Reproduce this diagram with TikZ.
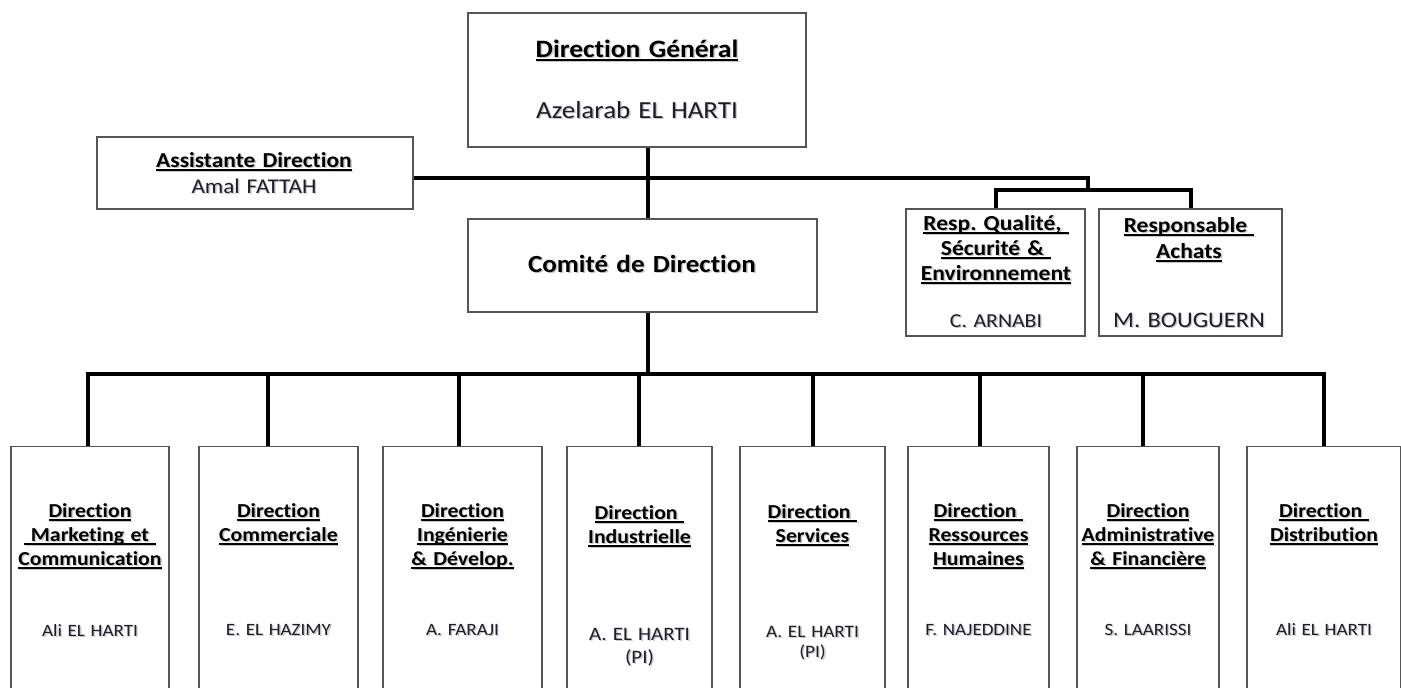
\documentclass[tikz,border=0pt]{standalone}
\usepackage{fontspec}
\setmainfont{Carlito}[FakeStretch=1.1, WordSpace=0.9, Ligatures=NoCommon]
\frenchspacing
\definecolor{boxgray}{RGB}{85,85,85}
\definecolor{nametext}{RGB}{28,28,45}
\definecolor{shade}{RGB}{200,200,200}
% text line with a soft drop shadow
\newcommand\sh[1]{\leavevmode\rlap{\hspace{1.4pt}\raisebox{-1.4pt}{\textcolor{shade}{#1}}}#1}
% underlined heading line with its shadow, the rule just under the baseline
\newcommand\ulbox[1]{\leavevmode\setbox0\hbox{#1}%
  \rlap{\hspace{1.4pt}\textcolor{shade}{\rule[-5pt]{\wd0}{1.4pt}}}%
  \rlap{\hspace{1.4pt}\raisebox{-1.4pt}{\textcolor{shade}{\copy0}}}%
  \rlap{\rule[-3.6pt]{\wd0}{1.4pt}}\box0}
\begin{document}
\begin{tikzpicture}[x=1pt,y=-1pt,
  box/.style={draw=boxgray, line width=1.3pt, fill=white, inner sep=0},
  conn/.style={line width=4pt, black},
  txt/.style={text width=300pt, align=center, anchor=base, inner sep=0},
  ttl/.style={txt, font=\bfseries\fontsize{19.8}{24}\selectfont},
  nm/.style={txt, text=nametext, font=\fontsize{17.3}{22}\selectfont}]
\clip (0,0) rectangle (1401,688);
\fill[white] (0,0) rectangle (1401,688);

% upper level
\node[box, minimum width=338, minimum height=134] (dg) at (637,80) {};
\node[box, minimum width=316, minimum height=72] (as) at (255,173) {};
\node[box, minimum width=349, minimum height=93] (cd) at (642.5,265.5) {};
\node[box, minimum width=179, minimum height=127] (q) at (995.5,272.5) {};
\node[box, minimum width=183, minimum height=127] (ach) at (1190.5,272.5) {};

\node[txt, font=\bfseries\fontsize{25}{28}\selectfont] (dgt) at (637,57) {\ulbox{Direction Général}};
\node[txt, text=nametext, font=\fontsize{24.5}{28}\selectfont] (dgn) at (637,118) {\sh{Azelarab EL HARTI}};
\node[txt, font=\bfseries\fontsize{21.3}{24}\selectfont] (ast) at (254,167) {\ulbox{Assistante Direction}};
\node[txt, text=nametext, font=\fontsize{21}{24}\selectfont] (asn) at (254,193) {\sh{Amal FATTAH}};
\node[txt, font=\bfseries\fontsize{24.6}{28}\selectfont] (cdt) at (642,272) {\sh{Comité de Direction}};
\node[txt, font=\bfseries\fontsize{21.4}{25}\selectfont] (qt) at (996,230)
  {\ulbox{Resp. Qualité,\ }\\\ulbox{Sécurité \&\ }\\\ulbox{Environnement}};
\node[txt, text=nametext, font=\fontsize{19.8}{22}\selectfont] (qn) at (996,327) {\sh{C. ARNABI}};
\node[txt, font=\bfseries\fontsize{21.4}{26}\selectfont] (acht) at (1189,232)
  {\ulbox{Responsable\ }\\\ulbox{Achats}};
\node[txt, text=nametext, font=\fontsize{22.2}{24}\selectfont] (achn) at (1189,327) {\sh{M. BOUGUERN}};

% directions
\node[box, minimum width=158, minimum height=260, anchor=north] (b1) at (90,446) {};
\node[box, minimum width=159, minimum height=260, anchor=north] (b2) at (278.5,446) {};
\node[box, minimum width=159, minimum height=260, anchor=north] (b3) at (462.5,446) {};
\node[box, minimum width=145, minimum height=260, anchor=north] (b4) at (639.5,446) {};
\node[box, minimum width=145, minimum height=260, anchor=north] (b5) at (812.5,446) {};
\node[box, minimum width=141, minimum height=260, anchor=north] (b6) at (978.5,446) {};
\node[box, minimum width=142, minimum height=260, anchor=north] (b7) at (1148,446) {};
\node[box, minimum width=154, minimum height=260, anchor=north] (b8) at (1324,446) {};

\node[ttl] (t1) at (90,517) {\ulbox{Direction}\\\ulbox{\ Marketing et\ }\\\ulbox{Communication}};
\node[ttl] (t2) at (278.5,517) {\ulbox{Direction}\\\ulbox{Commerciale}};
\node[ttl] (t3) at (462.5,517) {\ulbox{Direction}\\\ulbox{Ingénierie}\\\ulbox{\& Dévelop.}};
\node[ttl] (t4) at (639.5,519) {\ulbox{Direction\ }\\\ulbox{Industrielle}};
\node[ttl] (t5) at (812.5,518) {\ulbox{Direction\ }\\\ulbox{Services}};
\node[ttl] (t6) at (978.5,517) {\ulbox{Direction\ }\\\ulbox{Ressources}\\\ulbox{Humaines}};
\node[ttl] (t7) at (1148,517) {\ulbox{Direction}\\\ulbox{Administrative}\\\ulbox{\& Financière}};
\node[ttl] (t8) at (1324,517) {\ulbox{Direction\ }\\\ulbox{Distribution}};

\node[nm] (n1) at (90,636) {\sh{Ali EL HARTI}};
\node[nm] (n2) at (278.5,635) {\sh{E. EL HAZIMY}};
\node[nm] (n3) at (462.5,635) {\sh{A. FARAJI}};
\node[nm, font=\fontsize{19}{23}\selectfont] (n4) at (639.5,640) {\sh{A. EL HARTI}\\\sh{(PI)}};
\node[nm, font=\fontsize{17.5}{20}\selectfont] (n5) at (812.5,637) {\sh{A. EL HARTI}\\\sh{(PI)}};
\node[nm] (n6) at (978.5,635) {\sh{F. NAJEDDINE}};
\node[nm] (n7) at (1148,635) {\sh{S. LAARISSI}};
\node[nm] (n8) at (1324,635) {\sh{Ali EL HARTI}};

% connectors
\coordinate (spine) at (648,0);
\coordinate (j1) at (1088,178);
\coordinate (j2) at (1088,190);
\coordinate (bus) at (648,374);
\coordinate (d1) at (88,0);
\coordinate (d2) at (268,0);
\coordinate (d3) at (459,0);
\coordinate (d4) at (639,0);
\coordinate (d5) at (813,0);
\coordinate (d6) at (980,0);
\coordinate (d7) at (1143,0);
\coordinate (d8) at (1324,0);

\draw[conn] (dg.south -| spine) -- (cd.north -| spine);
\draw[conn] (as.east |- j1) -- (j1) -- (j2);
\draw[conn] (q.north) |- (j2) -| (ach.north);
\draw[conn] (cd.south -| spine) -- (bus);
\draw[conn] (b1.north -| d1) |- (bus) -| (b8.north -| d8);
\foreach \i in {2,...,7}
  \draw[conn] (b\i.north -| d\i) -- (d\i |- bus);
\end{tikzpicture}
\end{document}
